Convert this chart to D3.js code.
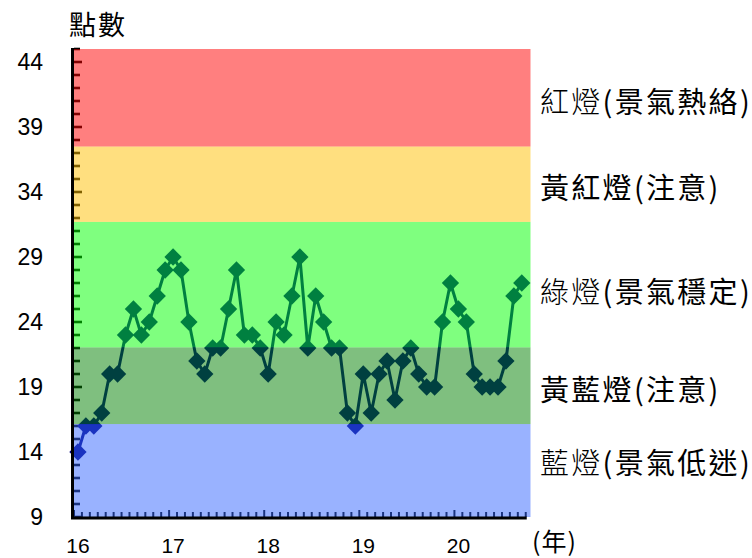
<!DOCTYPE html>
<html>
<head>
<meta charset="utf-8">
<script src="https://cdn.jsdelivr.net/npm/d3@7"></script>
<style>
  html, body { margin: 0; padding: 0; background: #fff; }
  svg { display: block; }
</style>
</head>
<body>
<svg id="chart" width="752" height="558"></svg>
<script>
// Monthly business-cycle monitoring score, Jan 2016 – Sep 2020
const scores = [
  14, 16, 16, 17, 20, 20, 23, 25, 23, 24, 26, 28,
  29, 28, 24, 21, 20, 22, 22, 25, 28, 23, 23, 22,
  20, 24, 23, 26, 29, 22, 26, 24, 22, 22, 17, 16,
  20, 17, 20, 21, 18, 21, 22, 20, 19, 19, 24, 27,
  25, 24, 20, 19, 19, 19, 21, 26, 27
];
const yearLabels = ["16", "17", "18", "19", "20"];
const monthsPerYear = 12;

// Signal bands: lower/upper score edges, colour and name
const bandEdges = [9, 16.15, 22.05, 31.7, 37.5, 45];
const bandColors = ["#3366ff", "#008000", "#00ff00", "#ffc000", "#ff0000"];
const signalNames = ["藍燈(景氣低迷)", "黃藍燈(注意)", "綠燈(景氣穩定)", "黃紅燈(注意)", "紅燈(景氣熱絡)"];
const signalLevels = [13.1, 18.7, 26.3, 34.3, 40.9];

const yTickValues = [9, 14, 19, 24, 29, 34, 39, 44];

const svg = d3.select("#chart");

const x = d3.scaleLinear().domain([0, 57.6]).range([74, 530.5]);
const y = d3.scaleLinear().domain([9, 45]).range([517, 49]);

const navy = "#000080";
const numFont = "'Liberation Sans', Arial, sans-serif";
const cjkFont = "'Noto Sans CJK TC', 'Noto Sans CJK JP', sans-serif";

// tick marks inside the plot (tinted later by the translucent bands)
const ticks = svg.append("g");
d3.range(9, 46).forEach(v => {
  const major = (v - 9) % 5 === 0;
  ticks.append("line")
    .attr("x1", x(0)).attr("x2", x(0) + (major ? 8 : 6))
    .attr("y1", y(v)).attr("y2", y(v))
    .attr("stroke", "#000").attr("stroke-width", 2.6);
});
d3.range(0, scores.length + 1).forEach(m => {
  const major = m % monthsPerYear === 0;
  ticks.append("line")
    .attr("x1", x(m)).attr("x2", x(m))
    .attr("y1", y(9)).attr("y2", y(9) - (major ? 7 : 5))
    .attr("stroke", "#000").attr("stroke-width", 2);
});

// score line and diamond markers
const px = (d, i) => x(i + 0.5);
svg.append("path")
  .datum(scores)
  .attr("fill", "none")
  .attr("stroke", navy)
  .attr("stroke-width", 3)
  .attr("stroke-linejoin", "round")
  .attr("d", d3.line().x(px).y(d => y(d)));

svg.append("g").selectAll("path")
  .data(scores)
  .join("path")
  .attr("d", d3.symbol(d3.symbolSquare, 150))
  .attr("transform", (d, i) => `translate(${px(d, i)},${y(d)}) rotate(45)`)
  .attr("fill", navy);

// translucent signal bands laid over the marks
svg.append("g").selectAll("rect")
  .data(bandColors)
  .join("rect")
  .attr("x", x(0))
  .attr("width", x(57.6) - x(0))
  .attr("y", (c, i) => y(bandEdges[i + 1]))
  .attr("height", (c, i) => y(bandEdges[i]) - y(bandEdges[i + 1]))
  .attr("fill", c => c)
  .attr("fill-opacity", 0.5);

// axis lines
svg.append("line")
  .attr("x1", x(0) - 1.5).attr("x2", x(0) - 1.5)
  .attr("y1", y(45) - 1).attr("y2", y(9) + 2)
  .attr("stroke", "#000").attr("stroke-width", 3);
svg.append("line")
  .attr("x1", x(0) - 3).attr("x2", x(scores.length) + 1)
  .attr("y1", y(9) + 1).attr("y2", y(9) + 1)
  .attr("stroke", "#000").attr("stroke-width", 3);

// y tick labels
svg.append("g").selectAll("text")
  .data(yTickValues)
  .join("text")
  .attr("x", 43)
  .attr("y", d => y(d))
  .attr("dy", "0.36em")
  .attr("text-anchor", "end")
  .attr("font-family", numFont)
  .attr("font-size", 23)
  .attr("fill", "#000")
  .text(d => d);

// x (year) labels
svg.append("g").selectAll("text")
  .data(yearLabels)
  .join("text")
  .attr("x", (d, i) => x(i * monthsPerYear) + 4)
  .attr("y", 553)
  .attr("text-anchor", "middle")
  .attr("font-family", numFont)
  .attr("font-size", 21)
  .attr("fill", "#000")
  .text(d => d);

// axis titles
svg.append("text")
  .attr("x", 69).attr("y", 35)
  .attr("font-family", cjkFont)
  .attr("font-size", 27)
  .attr("letter-spacing", 2)
  .attr("fill", "#000")
  .text("點數");

svg.append("text")
  .attr("x", 532).attr("y", 551)
  .attr("font-family", cjkFont)
  .attr("font-size", 25)
  .attr("letter-spacing", 1)
  .attr("fill", "#000")
  .text("(年)");

// signal names to the right of the bands
const names = svg.append("g").selectAll("text")
  .data(signalNames)
  .join("text")
  .attr("x", 540)
  .attr("y", (d, i) => y(signalLevels[i]))
  .attr("dy", "0.36em")
  .attr("font-family", cjkFont)
  .attr("font-size", 29)
  .attr("letter-spacing", 2.3)
  .attr("fill", "#000");

names.each(function (d) {
  const cut = d.indexOf("(");
  const head = d.slice(0, cut);
  const t = d3.select(this);
  const h = t.append("tspan").text(head);
  // the short lamp names are set in a lighter weight
  if (head.length === 2) h.attr("font-weight", 300);
  t.append("tspan").text(d.slice(cut));
});
</script>
</body>
</html>
